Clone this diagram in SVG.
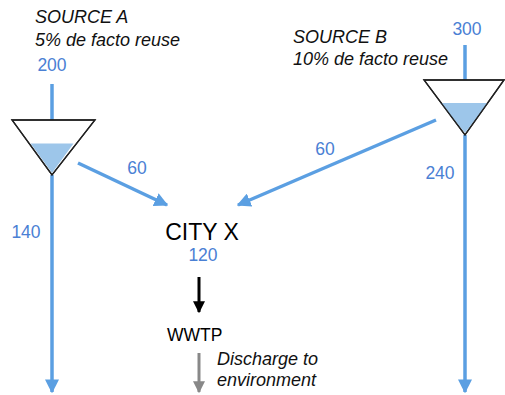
<svg xmlns="http://www.w3.org/2000/svg" width="505" height="395" viewBox="0 0 505 395">
<defs>
<style>
.lbl{font-family:"Liberation Sans",Arial,sans-serif;font-size:18px;font-style:italic;fill:#111}
.num{font-family:"Liberation Sans",Arial,sans-serif;font-size:17.5px;fill:#4a80d4;text-anchor:middle}
.flow{stroke:#5b9fe2;stroke-width:3.5;fill:none}
.tank{fill:#fff;stroke:#222;stroke-width:1.3}
.water{fill:#9dc6ea}
</style>
<marker id="ab" viewBox="0 0 10 10" refX="9" refY="5" markerWidth="4" markerHeight="4" orient="auto" markerUnits="strokeWidth">
<path d="M0,0 L10,5 L0,10 Z" fill="#5b9fe2"/>
</marker>
<marker id="ak" viewBox="0 0 10 10" refX="9" refY="5" markerWidth="4" markerHeight="4" orient="auto" markerUnits="strokeWidth">
<path d="M0,0 L10,5 L0,10 Z" fill="#000"/>
</marker>
<marker id="ag" viewBox="0 0 10 10" refX="9" refY="5" markerWidth="4" markerHeight="4" orient="auto" markerUnits="strokeWidth">
<path d="M0,0 L10,5 L0,10 Z" fill="#888"/>
</marker>
</defs>
<g id="connectors">
<line class="flow" x1="52" y1="84" x2="52" y2="120"/>
<line class="flow" x1="52" y1="175" x2="52" y2="392" marker-end="url(#ab)"/>
<line class="flow" x1="78" y1="163" x2="167" y2="205" marker-end="url(#ab)"/>
<line class="flow" x1="465" y1="45" x2="465" y2="80"/>
<line class="flow" x1="465" y1="135" x2="465" y2="392" marker-end="url(#ab)"/>
<line class="flow" x1="436" y1="120" x2="238" y2="205" marker-end="url(#ab)"/>
<line x1="199" y1="277" x2="199" y2="312" stroke="#000" stroke-width="3" marker-end="url(#ak)"/>
<line x1="199" y1="353" x2="199" y2="392" stroke="#888" stroke-width="3" marker-end="url(#ag)"/>
<text class="num" x="137" y="174">60</text>
<text class="num" x="325" y="155">60</text>
<text class="num" x="26" y="238">140</text>
<text class="num" x="440" y="179">240</text>
</g>
<g id="sourceA">
<text class="lbl" x="35" y="23">SOURCE A</text>
<text class="lbl" x="35" y="46">5% de facto reuse</text>
<text class="num" x="52" y="71">200</text>
<polygon class="tank" points="12,120 95,120 52,175"/>
<polygon class="water" points="30.6,143.5 73.5,143.5 52,173"/>
<polygon fill="none" stroke="#222" stroke-width="1.3" points="12,120 95,120 52,175"/>
</g>
<g id="sourceB">
<text class="lbl" x="293" y="43">SOURCE B</text>
<text class="lbl" x="293" y="65">10% de facto reuse</text>
<text class="num" x="467" y="35">300</text>
<polygon class="tank" points="424,80 504,80 465,135"/>
<polygon class="water" points="440.4,103 487.8,103 465,133"/>
<polygon fill="none" stroke="#222" stroke-width="1.3" points="424,80 504,80 465,135"/>
</g>
<g id="cityX">
<text x="202" y="240" text-anchor="middle" font-family="'Liberation Sans',Arial,sans-serif" font-size="23" fill="#000">CITY X</text>
<text class="num" x="203" y="261">120</text>
</g>
<g id="wwtp">
<text x="167" y="341" font-family="'Liberation Sans',Arial,sans-serif" font-size="17.5" fill="#000">WWTP</text>
</g>
<g id="discharge">
<text class="lbl" x="217" y="365">Discharge to</text>
<text class="lbl" x="217" y="386">environment</text>
</g>
</svg>
